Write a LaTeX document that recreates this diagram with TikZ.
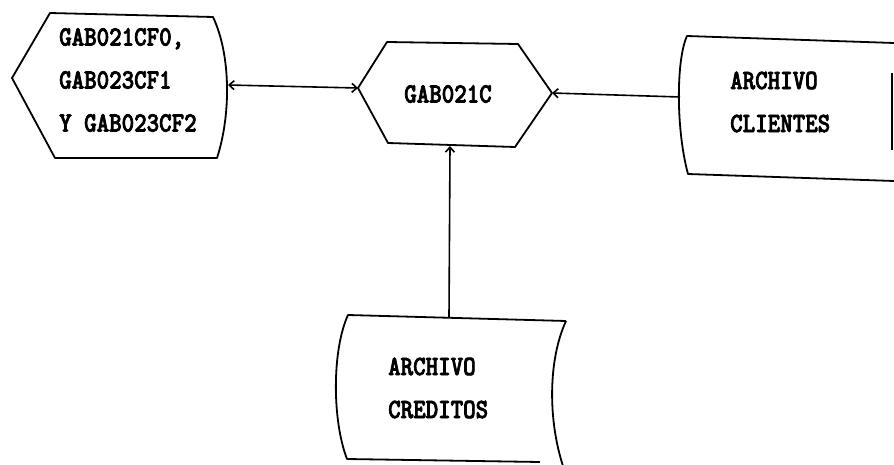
\documentclass[tikz,border=0pt]{standalone}
\usepackage{fontspec}
\usetikzlibrary{arrows.meta}
\newfontfamily\termfont[FakeStretch=0.85, FakeBold=2.5]{lmmonolt10-bold.otf}
\tikzset{
  outline/.style={draw=black, line width=1.8pt, line join=round},
  flow/.style={draw=black, line width=1.6pt, -{Straight Barb[length=5pt,width=9pt]}},
  twoway/.style={draw=black, line width=1.6pt, {Straight Barb[length=5pt,width=9pt]}-{Straight Barb[length=5pt,width=9pt]}},
  label/.style={inner sep=0pt, align=left, font=\termfont\fontsize{28}{43}\selectfont},
}
\begin{document}
\begin{tikzpicture}[x=1pt, y=-1pt]
  \useasboundingbox (0,0) rectangle (894,465);

  % output programs (pointed box on the left)
  \draw[outline] (50,13) -- (213,17)
    .. controls (231,55) and (231,115) .. (217,158)
    -- (55,158) -- (12,78) -- cycle;
  \coordinate (out-e) at (228,85);
  \node[label, anchor=west] (outtext) at (59,80)
    {GAB021CF0,\\GAB023CF1\\Y GAB023CF2};

  % main program (hexagon)
  \draw[outline] (387,42) -- (518,44) -- (552,93) -- (515,147)
    -- (388,143) -- (358,88) -- cycle;
  \coordinate (prog-w) at (358,88);
  \coordinate (prog-e) at (552,93);
  \coordinate (prog-s) at (450,146);
  \node[label] (progtext) at (448,94) {GAB021C};

  % customer file (stored data, cut at the right border)
  \draw[outline] (894,43) -- (687,36)
    .. controls (676,60) and (676,130) .. (688,174) -- (894,181);
  \draw[outline] (892,73) -- (892,150);
  \coordinate (cli-w) at (680,97);
  \node[label, anchor=west] (clitext) at (730,102) {ARCHIVO\\CLIENTES};

  % credits file (stored data, cut at the bottom border)
  \draw[outline] (566,321) -- (348,315)
    .. controls (332,350) and (332,420) .. (347,459) -- (540,462);
  \draw[outline] (566,321) .. controls (548,360) and (548,420) .. (563,466);
  \coordinate (cre-n) at (449,317);
  \node[label, anchor=west] (cretext) at (388,388) {ARCHIVO\\CREDITOS};

  % data flows
  \draw[twoway] (out-e) -- (prog-w);
  \draw[flow] (cli-w) -- (prog-e);
  \draw[flow] (cre-n) -- (prog-s);
\end{tikzpicture}
\end{document}
